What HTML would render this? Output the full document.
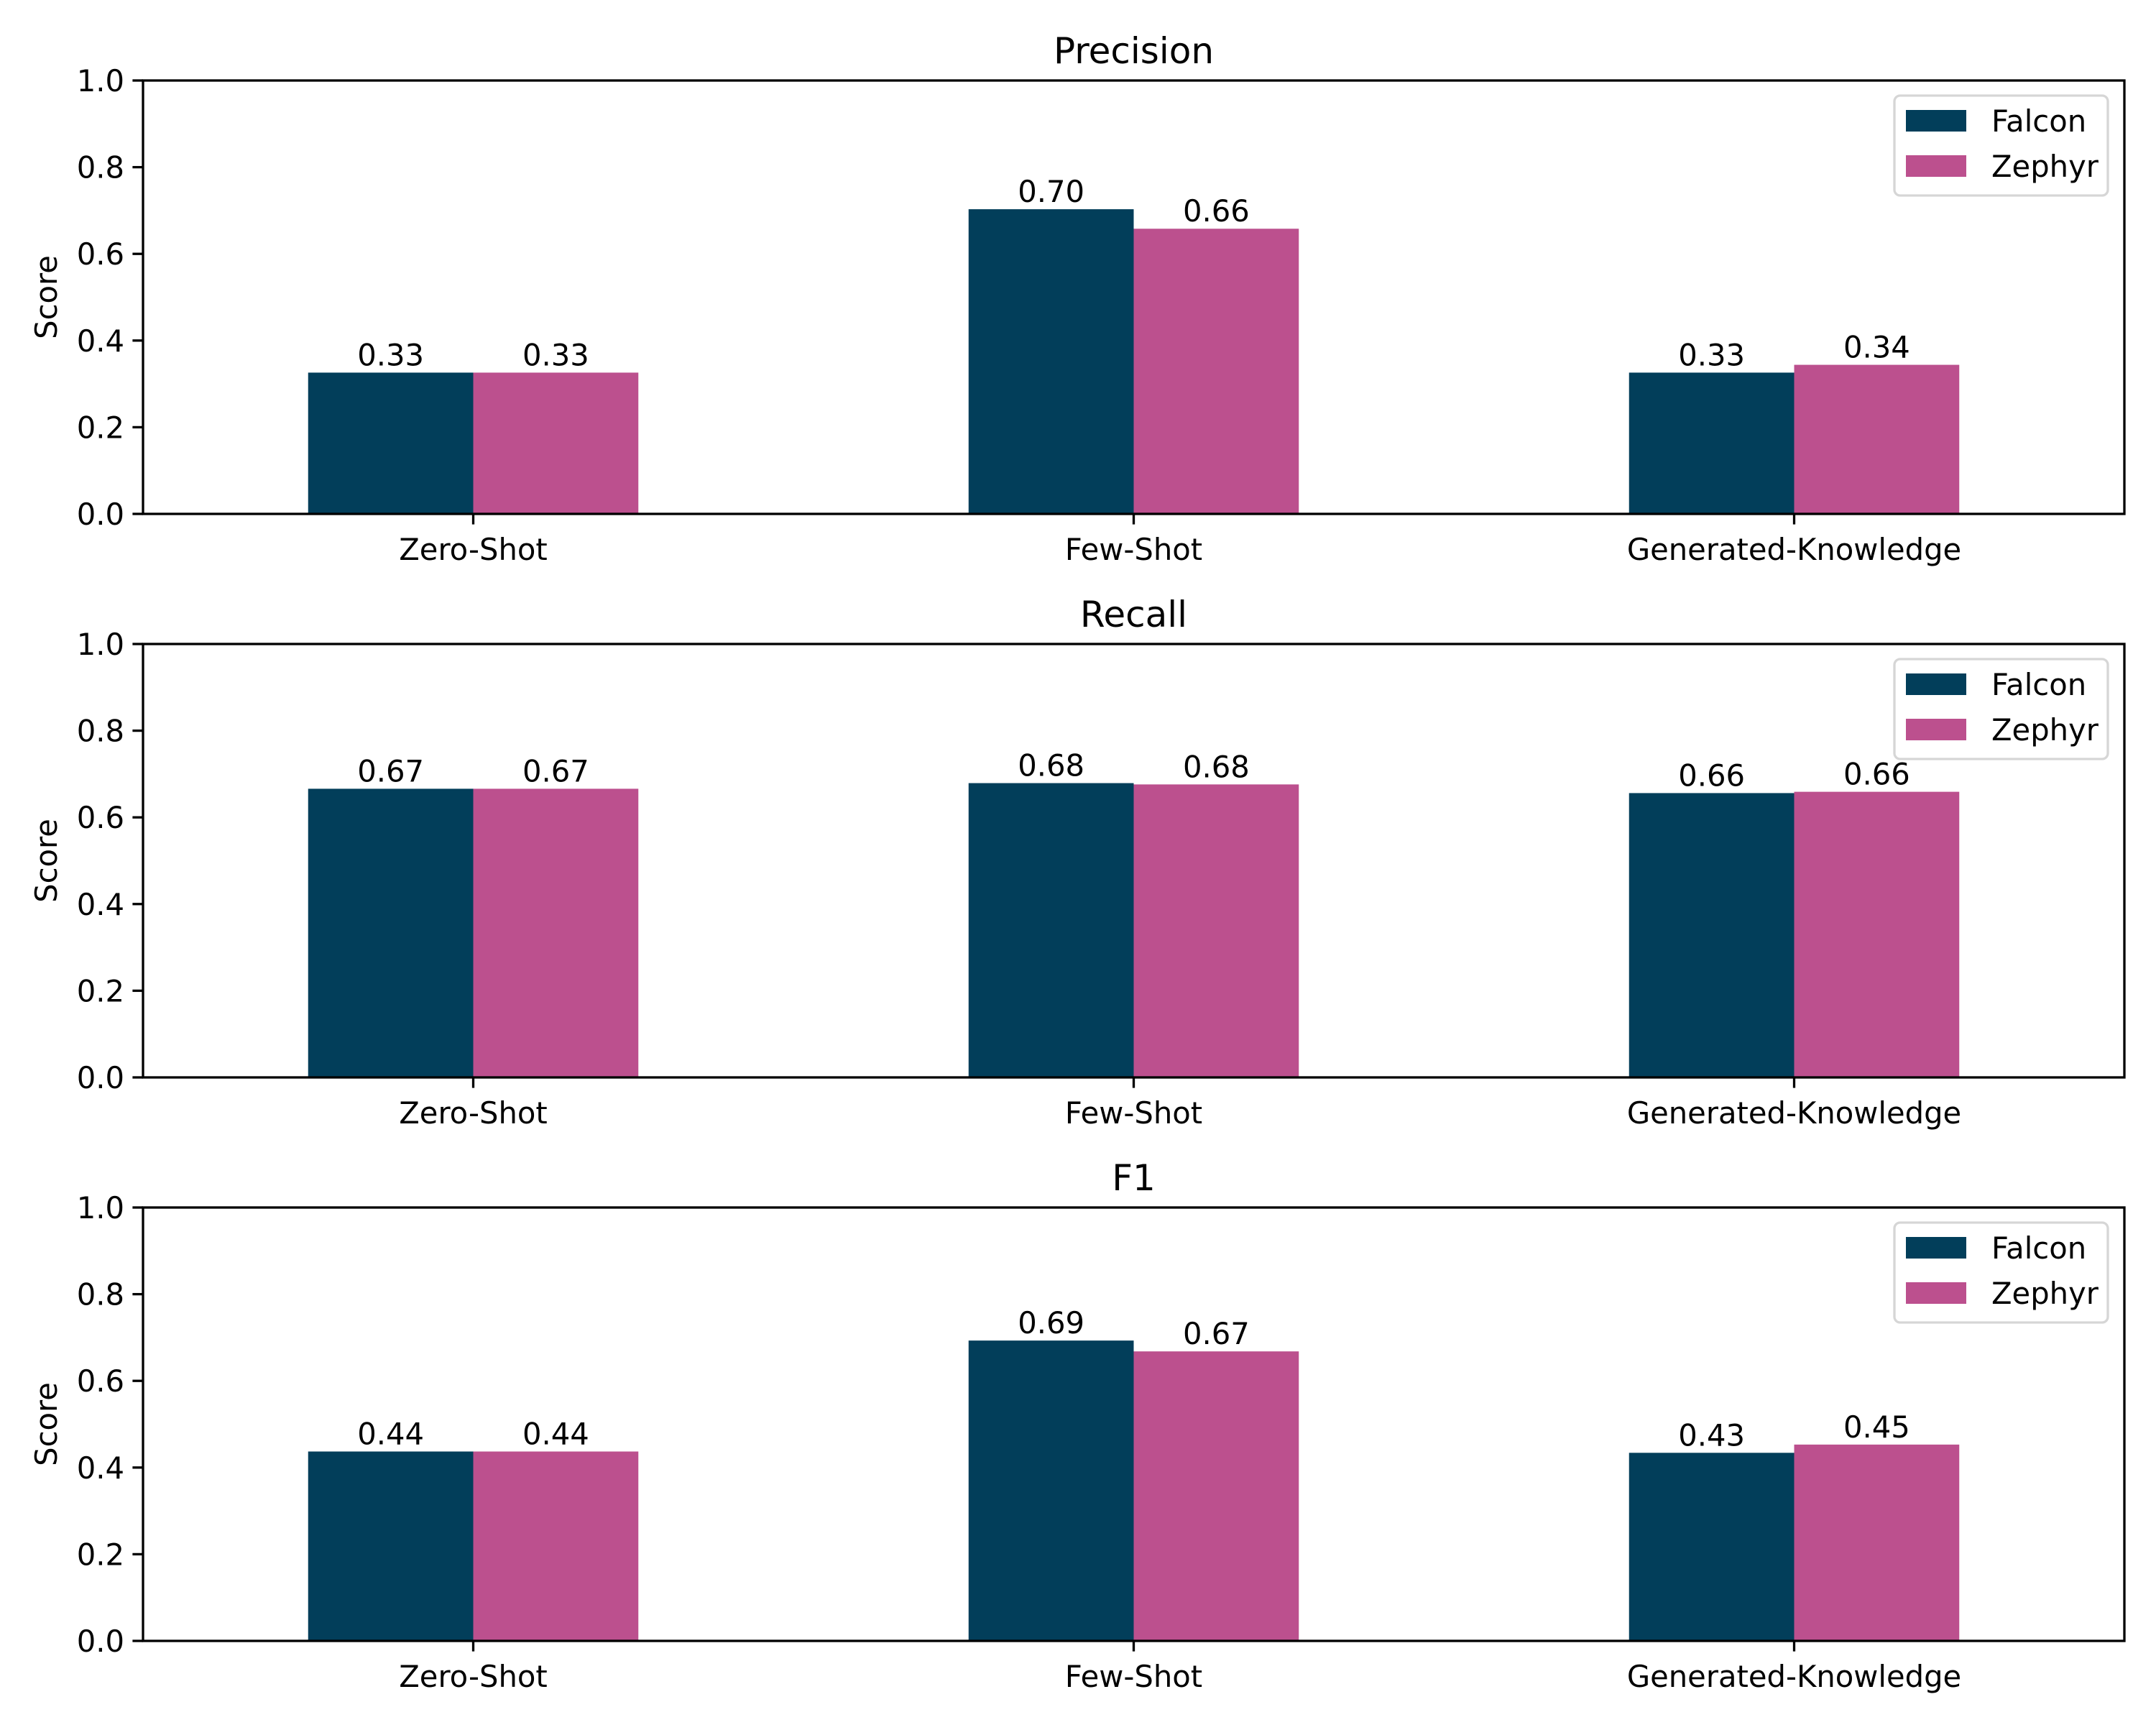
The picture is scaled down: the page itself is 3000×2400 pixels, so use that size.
<!DOCTYPE html>
<html><head><meta charset="utf-8"><style>
html,body{margin:0;padding:0;background:#fff;}
svg{display:block;font-family:"DejaVu Sans","Liberation Sans",sans-serif;}
</style></head><body>
<svg id="chart" width="3000" height="2400" viewBox="0 0 3000 2400" xmlns="http://www.w3.org/2000/svg"></svg>
<script>
const categories = ["Zero-Shot", "Few-Shot", "Generated-Knowledge"];
const seriesNames = ["Falcon", "Zephyr"];
const panelTitles = ["Precision", "Recall", "F1"];
const precisionFalcon = [0.326, 0.703, 0.326];
const precisionZephyr = [0.326, 0.658, 0.344];
const recallFalcon = [0.666, 0.679, 0.656];
const recallZephyr = [0.666, 0.676, 0.659];
const f1Falcon = [0.437, 0.693, 0.434];
const f1Zephyr = [0.437, 0.668, 0.453];
const yTicks = [0.0, 0.2, 0.4, 0.6, 0.8, 1.0];
const panelData = [[precisionFalcon, precisionZephyr],[recallFalcon, recallZephyr],[f1Falcon, f1Zephyr]];

const colors = ["#023e5a", "#bc508e"];
const NS = "http://www.w3.org/2000/svg";
const svg = document.getElementById("chart");
const L = 199, R = 2956, H = 603;
const tops = [112, 896, 1680];
function mk(tag, attrs, parent, text){
  const e = document.createElementNS(NS, tag);
  for (const k in attrs) e.setAttribute(k, attrs[k]);
  if (text !== undefined) e.textContent = text;
  parent.appendChild(e); return e;
}
const xScale = v => L + (v + 0.5) / 3 * (R - L);
const unit = (R - L) / 3;

panelData.forEach((series, p) => {
  const top = tops[p], bot = top + H;
  const yScale = v => bot - v * H;
  const g = mk("g", {}, svg);
  
  
  series.forEach((vals, s) => {
    vals.forEach((v, i) => {
      const x0 = xScale(i) + (s - 1) * 0.25 * unit;
      const r = mk("rect", {x: x0, y: yScale(v), width: 0.25 * unit, height: bot - yScale(v), fill: colors[s]}, g);
      
      
      const t = mk("text", {x: x0 + 0.125 * unit, y: yScale(v) - 10, "text-anchor": "middle", "font-size": 41.7}, g, v.toFixed(2));
      
      
    });
  });
  const fr = mk("rect", {x: L, y: top, width: R - L, height: H, fill: "none", stroke: "#000", "stroke-width": 3.3}, g);
  
  
  yTicks.forEach(v => {
    mk("line", {x1: L - 14.6, x2: L, y1: yScale(v), y2: yScale(v), stroke: "#000", "stroke-width": 3.3}, g);
    const t = mk("text", {x: L - 26, y: yScale(v) + 15, "text-anchor": "end", "font-size": 41.7}, g, v.toFixed(1));
    
    
  });
  categories.forEach((c, i) => {
    mk("line", {x1: xScale(i), x2: xScale(i), y1: bot, y2: bot + 14.6, stroke: "#000", "stroke-width": 3.3}, g);
    const t = mk("text", {x: xScale(i), y: bot + 64, "text-anchor": "middle", "font-size": 41.7}, g, c);
    
    
  });
  const tt = mk("text", {x: (L + R) / 2, y: top - 24, "text-anchor": "middle", "font-size": 50}, g, panelTitles[p]);
  
  
  const yl = mk("text", {x: 0, y: 0, "text-anchor": "middle", "font-size": 41.7, transform: `translate(79,${top + H / 2}) rotate(-90)`}, g, "Score");
  
  
  const lg = mk("g", {}, g);
  
  
  mk("rect", {x: 2636, y: top + 21, width: 297, height: 139, rx: 8, fill: "#fff", stroke: "#d6d6d6", "stroke-width": 3.3}, lg);
  seriesNames.forEach((n, s) => {
    const yy = top + 41 + s * 63;
    mk("rect", {x: 2652, y: yy, width: 84, height: 30, fill: colors[s]}, lg);
    const t = mk("text", {x: 2771, y: yy + 30, "font-size": 41.7}, lg, n);
    
    
  });
});
</script>
</body></html>
